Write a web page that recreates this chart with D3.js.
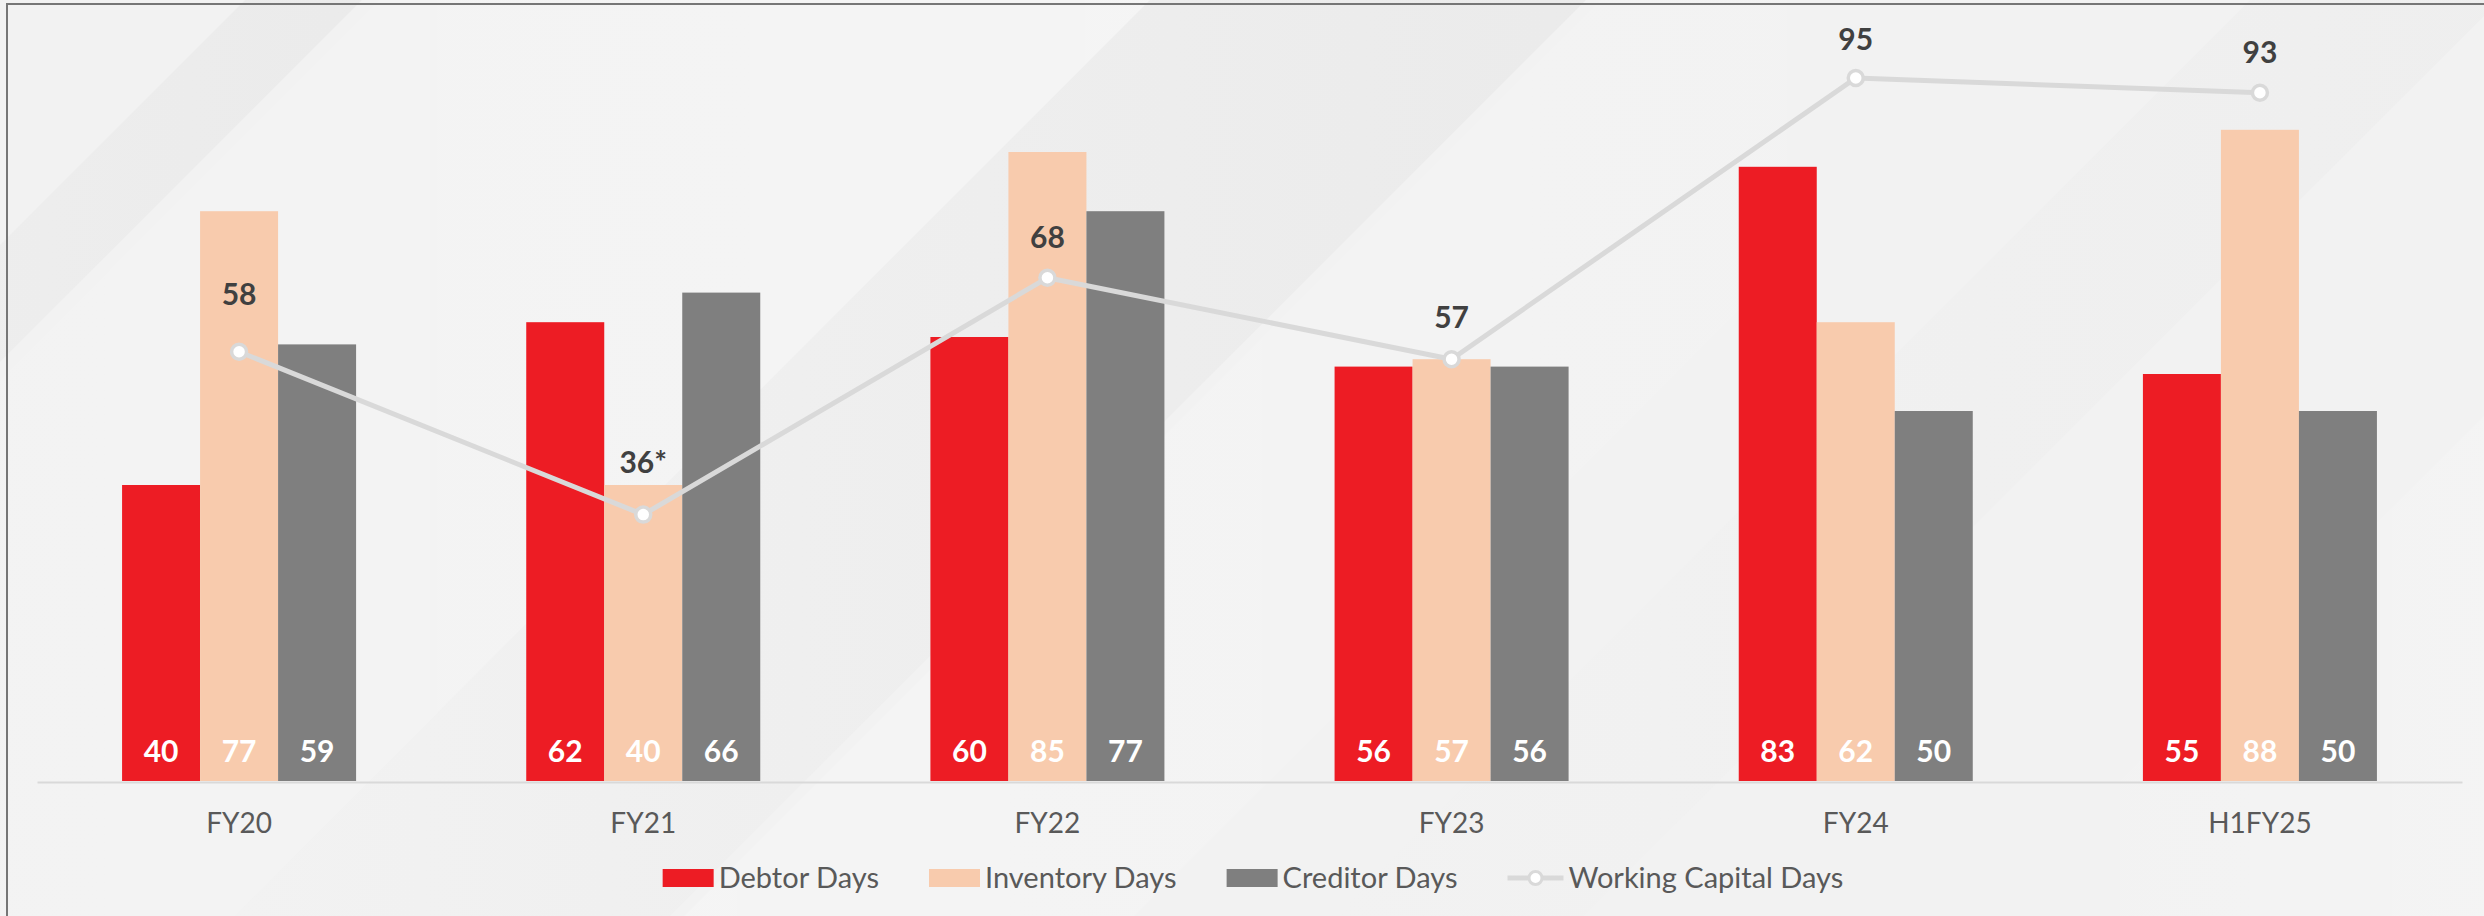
<!DOCTYPE html>
<html>
<head>
<meta charset="utf-8">
<script src="https://cdn.jsdelivr.net/npm/d3@7"></script>
<style>
  html, body { margin: 0; padding: 0; background: #f2f2f2; }
  svg { display: block; font-family: Lato, "Open Sans", sans-serif; }
</style>
</head>
<body>
<div id="chart"></div>
<script>
// chart values
var categories = ['FY20', 'FY21', 'FY22', 'FY23', 'FY24', 'H1FY25'];
var debtorDays = [40, 62, 60, 56, 83, 55];
var inventoryDays = [77, 40, 85, 57, 62, 88];
var creditorDays = [59, 66, 77, 56, 50, 50];
var workingCapitalDays = [58, 36, 68, 57, 95, 93];
var workingCapitalLabels = ['58', '36*', '68', '57', '95', '93'];
var seriesNames = ['Debtor Days', 'Inventory Days', 'Creditor Days'];
var lineName = 'Working Capital Days';

var W = 2484, H = 916;
var colors = {'Debtor Days': '#ed1c24', 'Inventory Days': '#f8cbad', 'Creditor Days': '#7f7f7f'};
// how far each line label sits above its point
var labelLift = [47, 42, 30, 31, 28, 30];

var svg = d3.select('#chart').append('svg')
    .attr('width', W)
    .attr('height', H);

// background with soft diagonal streaks
var defs = svg.append('defs');
function band(id, c1, o1, c2, o2){
    var g = defs.append('linearGradient').attr('id', id)
        .attr('x1', '0').attr('y1', '0').attr('x2', '1').attr('y2', '0')
        .attr('gradientUnits', 'objectBoundingBox');
    g.append('stop').attr('offset', '0%').attr('stop-color', c1).attr('stop-opacity', o1);
    g.append('stop').attr('offset', '100%').attr('stop-color', c2).attr('stop-opacity', o2);
}
svg.append('rect').attr('width', W).attr('height', H).attr('fill', '#f2f2f2');

// each streak is the strip between the lines x+y=a and x+y=b
var streaks = [
    {a: 245, b: 362, id: 's1', c1: '#e0e0e0', o1: 0.0, c2: '#e0e0e0', o2: 0.4},
    {a: 380, b: 1150, id: 's2', c1: '#ffffff', o1: 0.0, c2: '#ffffff', o2: 0.2},
    {a: 1150, b: 1586, id: 's3', c1: '#e2e2e2', o1: 0.0, c2: '#e2e2e2', o2: 0.45},
    {a: 1600, b: 2050, id: 's4', c1: '#ffffff', o1: 0.2, c2: '#ffffff', o2: 0.0},
    {a: 2250, b: 2500, id: 's5', c1: '#e6e6e6', o1: 0.0, c2: '#e6e6e6', o2: 0.3},
    {a: 2900, b: 3400, id: 's6', c1: '#ffffff', o1: 0.0, c2: '#ffffff', o2: 0.4}
];
streaks.forEach(function(s){
    band(s.id, s.c1, s.o1, s.c2, s.o2);
    var pts = [[s.a, 0], [s.b, 0], [s.b - H, H], [s.a - H, H]];
    svg.append('polygon')
        .attr('points', pts.map(function(p){ return p.join(','); }).join(' '))
        .attr('fill', 'url(#' + s.id + ')');
});

// frame, only top and left show
svg.append('rect')
    .attr('x', 7).attr('y', 4)
    .attr('width', W + 20).attr('height', H + 20)
    .attr('fill', 'none')
    .attr('stroke', '#767676')
    .attr('stroke-width', 2);

var x0 = d3.scaleBand()
    .domain(categories)
    .range([37, 2462])
    .paddingInner(0.421)
    .paddingOuter(0.2105);

var x1 = d3.scaleBand()
    .domain(seriesNames)
    .range([0, x0.bandwidth()]);

var y = d3.scaleLinear()
    .domain([0, 100])
    .range([781, 41]);

var rows = categories.map(function(c, i){
    return {cat: c, values: [
        {key: 'Debtor Days', v: debtorDays[i]},
        {key: 'Inventory Days', v: inventoryDays[i]},
        {key: 'Creditor Days', v: creditorDays[i]}
    ]};
});

var groups = svg.selectAll('g.group')
    .data(rows)
    .enter()
  .append('g')
    .attr('class', 'group')
    .attr('transform', function(d){ return 'translate(' + x0(d.cat) + ',0)'; });

groups.selectAll('rect')
    .data(function(d){ return d.values; })
    .enter()
  .append('rect')
    .attr('x', function(d){ return x1(d.key); })
    .attr('y', function(d){ return y(d.v); })
    .attr('width', x1.bandwidth())
    .attr('height', function(d){ return y(0) - y(d.v); })
    .attr('fill', function(d){ return colors[d.key]; });

groups.selectAll('text')
    .data(function(d){ return d.values; })
    .enter()
  .append('text')
    .attr('x', function(d){ return x1(d.key) + x1.bandwidth() / 2; })
    .attr('y', y(0) - 19)
    .attr('text-anchor', 'middle')
    .attr('fill', '#ffffff')
    .style('font-size', '30px')
    .style('font-weight', 'bold')
    .text(function(d){ return d.v; });

// x axis
var xAxis = svg.append('g')
    .attr('transform', 'translate(0,' + 782 + ')')
    .call(d3.axisBottom(x0).tickSize(0).tickSizeOuter(0).tickPadding(31));
xAxis.select('.domain').attr('stroke', '#d9d9d9').attr('stroke-width', 2);
xAxis.selectAll('text')
    .attr('fill', '#595959')
    .style('font-size', '28px')
    .style('font-family', 'Lato, "Open Sans", sans-serif');

// working capital line
var cx = function(i){ return x0(categories[i]) + x0.bandwidth() / 2; };
var line = d3.line()
    .x(function(d, i){ return cx(i); })
    .y(function(d){ return y(d); });

svg.append('path')
    .datum(workingCapitalDays)
    .attr('d', line)
    .attr('fill', 'none')
    .attr('stroke', '#d9d9d9')
    .attr('stroke-width', 5)
    .attr('stroke-linejoin', 'round');

svg.selectAll('circle.pt')
    .data(workingCapitalDays)
    .enter()
  .append('circle')
    .attr('class', 'pt')
    .attr('cx', function(d, i){ return cx(i); })
    .attr('cy', function(d){ return y(d); })
    .attr('r', 7.5)
    .attr('fill', '#ffffff')
    .attr('stroke', '#d9d9d9')
    .attr('stroke-width', 3.5);

svg.selectAll('text.wc')
    .data(workingCapitalDays)
    .enter()
  .append('text')
    .attr('class', 'wc')
    .attr('x', function(d, i){ return cx(i); })
    .attr('y', function(d, i){ return y(d) - labelLift[i]; })
    .attr('text-anchor', 'middle')
    .attr('fill', '#404040')
    .style('font-size', '30px')
    .style('font-weight', 'bold')
    .text(function(d, i){ return workingCapitalLabels[i]; });

// legend
var legend = svg.append('g').attr('class', 'legend');
var items = seriesNames.concat([lineName]);
var lx = 0, legendY = 878;
items.forEach(function(name, i){
    var g = legend.append('g').attr('transform', 'translate(' + lx + ',0)');
    var keyW = 51;
    if (i < 3) {
        g.append('rect')
            .attr('x', 0).attr('y', legendY - 9)
            .attr('width', keyW).attr('height', 18)
            .attr('fill', colors[name]);
    } else {
        keyW = 56;
        g.append('line')
            .attr('x1', 0).attr('x2', keyW)
            .attr('y1', legendY).attr('y2', legendY)
            .attr('stroke', '#d9d9d9').attr('stroke-width', 5);
        g.append('circle')
            .attr('cx', keyW / 2).attr('cy', legendY).attr('r', 6.5)
            .attr('fill', '#fff').attr('stroke', '#d9d9d9').attr('stroke-width', 3);
    }
    var t = g.append('text')
        .attr('x', keyW + 5)
        .attr('y', legendY + 10)
        .attr('fill', '#595959')
        .style('font-size', '29px')
        .text(name);
    lx += keyW + 5 + t.node().getComputedTextLength() + 50;
});
lx -= 50;
legend.attr('transform', 'translate(' + (1253 - lx / 2) + ',0)');
</script>
</body>
</html>
